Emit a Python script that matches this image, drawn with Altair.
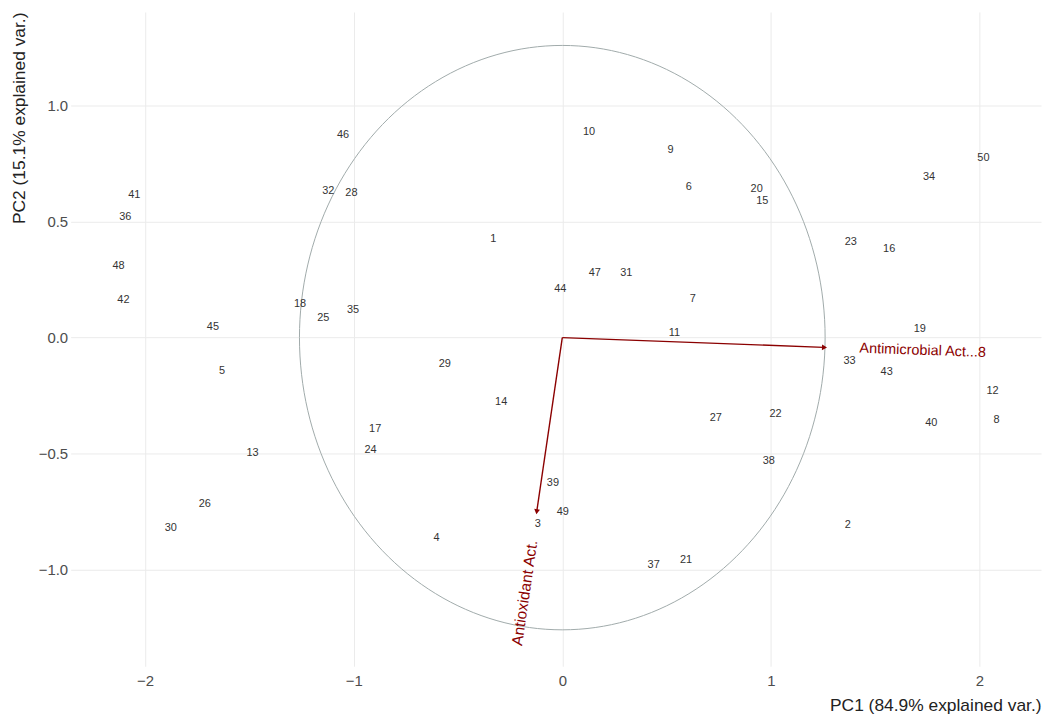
import altair as alt
import numpy as np
import pandas as pd

# ---- data ----
ids = [str(i) for i in range(1, 51)]
pc1 = [-0.331, 1.369, -0.118, -0.603, -1.631, 0.606, 0.625, 2.082, 0.519, 0.128,
       0.538, 2.063, -1.485, -0.293, 0.959, 1.567, -0.897, -1.257, 1.714, 0.932,
       0.593, 1.022, 1.383, -0.919, -1.146, -1.714, 0.736, -1.011, -0.563, -1.877,
       0.307, -1.122, 1.377, 1.758, -1.003, -2.095, 0.438, 0.990, -0.045, 1.769,
       -2.052, -2.104, 1.555, -0.010, -1.675, -1.051, 0.156, -2.127, 0.002, 2.019]
pc2 = [0.425, -0.808, -0.804, -0.864, -0.142, 0.651, 0.165, -0.354, 0.811, 0.886,
       0.018, -0.229, -0.499, -0.278, 0.589, 0.382, -0.393, 0.147, 0.035, 0.640,
       -0.958, -0.329, 0.414, -0.485, 0.085, -0.718, -0.346, 0.622, -0.115, -0.821,
       0.278, 0.632, -0.101, 0.692, 0.118, 0.518, -0.982, -0.532, -0.628, -0.368,
       0.614, 0.161, -0.147, 0.208, 0.044, 0.875, 0.278, 0.308, -0.751, 0.775]

var_names = ["Antimicrobial Act...8", "Antioxidant Act."]
var_x = [1.253, -0.122]
var_y = [-0.042, -0.747]
circle_r = 1.26

x_domain = [-2.357, 2.295]
y_domain = [-1.417, 1.404]
x_ticks = [-2, -1, 0, 1, 2]
y_ticks = [-1.0, -0.5, 0.0, 0.5, 1.0]

W, H = 976, 658
FONT = "Liberation Sans"
DARKRED = "#8B0000"

px_x = W / (x_domain[1] - x_domain[0])
px_y = H / (y_domain[1] - y_domain[0])

pts = pd.DataFrame({"pc1": pc1, "pc2": pc2, "id": ids})

t = np.linspace(0, 2 * np.pi, 201)
circ = pd.DataFrame({"pc1": circle_r * np.cos(t), "pc2": circle_r * np.sin(t), "o": np.arange(len(t))})

arrows = pd.DataFrame({"x0": [0.0, 0.0], "y0": [0.0, 0.0], "pc1": var_x, "pc2": var_y, "name": var_names})
arrows["head"] = [float(np.degrees(np.arctan2(vx * px_x, vy * px_y)) % 360) for vx, vy in zip(var_x, var_y)]

xs = alt.Scale(domain=x_domain, nice=False, zero=False)
ys = alt.Scale(domain=y_domain, nice=False, zero=False)

xaxis = alt.Axis(values=x_ticks, format="d", title="PC1 (84.9% explained var.)", ticks=False, domain=False,
                 grid=True, gridColor="#EBEBEB", gridWidth=1, labelFontSize=15, labelColor="#4D4D4D",
                 labelPadding=7, labelFont=FONT, titleFont=FONT, titleFontSize=17.5,
                 titleFontWeight="normal", titleColor="#222222", titleAlign="right",
                 titleBaseline="middle", titleAngle=0, titleX=W, titleY=40)
yaxis = alt.Axis(values=y_ticks, format=".1f", title="PC2 (15.1% explained var.)", ticks=False,
                 domain=False, grid=True, gridColor="#EBEBEB", gridWidth=1, labelFontSize=15,
                 labelColor="#4D4D4D", labelPadding=3, labelFont=FONT, titleFont=FONT,
                 titleFontSize=17.5, titleFontWeight="normal", titleColor="#222222",
                 titleAlign="right", titleBaseline="middle", titleAngle=270, titleX=-51, titleY=0)

circle = alt.Chart(circ).mark_line(color="#A0AAAA", strokeWidth=1).encode(
    x=alt.X("pc1:Q", scale=xs, axis=xaxis),
    y=alt.Y("pc2:Q", scale=ys, axis=yaxis),
    order="o:Q",
)

segs = alt.Chart(arrows).mark_rule(color=DARKRED, strokeWidth=1.4).encode(
    x=alt.X("x0:Q", scale=xs), y=alt.Y("y0:Q", scale=ys), x2="pc1:Q", y2="pc2:Q"
)

heads = alt.Chart(arrows).mark_point(shape="triangle", filled=True, color=DARKRED, size=34, opacity=1).encode(
    x=alt.X("pc1:Q", scale=xs), y=alt.Y("pc2:Q", scale=ys), angle=alt.Angle("head:Q", scale=None)
)

lab1 = alt.Chart(arrows.iloc[[0]]).mark_text(
    font=FONT, fontSize=14.5, color=DARKRED, align="left", baseline="middle", dx=36, angle=2
).encode(x=alt.X("pc1:Q", scale=xs), y=alt.Y("pc2:Q", scale=ys), text="name:N")

lab2 = alt.Chart(arrows.iloc[[1]]).mark_text(
    font=FONT, fontSize=15.5, color=DARKRED, align="right", baseline="middle", dx=-30, angle=278.4
).encode(x=alt.X("pc1:Q", scale=xs), y=alt.Y("pc2:Q", scale=ys), text="name:N")

labels = alt.Chart(pts).mark_text(font=FONT, fontSize=11, color="#333333").encode(
    x=alt.X("pc1:Q", scale=xs), y=alt.Y("pc2:Q", scale=ys), text="id:N"
)

chart = alt.layer(circle, segs, heads, lab1, lab2, labels).properties(
    width=W, height=H,
    background="white",
    autosize=alt.AutoSizeParams(type="none"),
    padding={"left": 63, "top": 2, "right": 2, "bottom": 49},
).configure_view(strokeOpacity=0, strokeWidth=0)

chart.save("out.html", embed_options={"renderer": "svg", "actions": False})
